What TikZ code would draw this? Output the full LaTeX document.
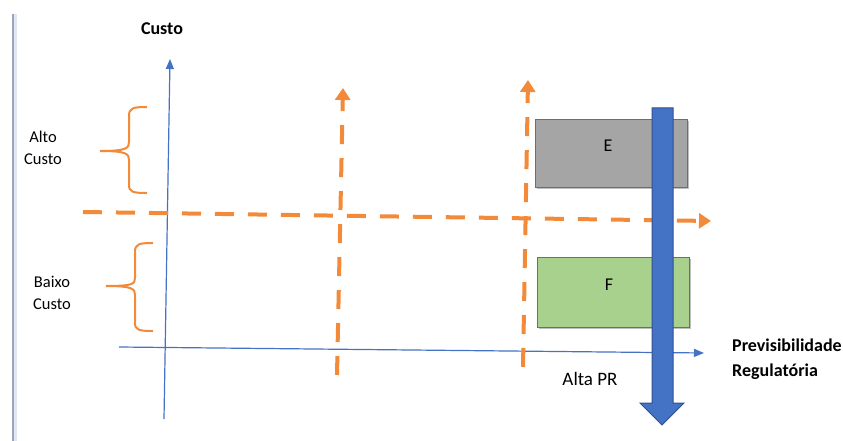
\documentclass[tikz,border=0pt]{standalone}
\usepackage{fontspec}
\setmainfont{Carlito}
\usetikzlibrary{arrows.meta,shadows}
\definecolor{ora}{HTML}{F28A3A}
\definecolor{axblue}{HTML}{4472C4}
\definecolor{dkblue}{HTML}{2F528F}
\definecolor{boxgray}{HTML}{A5A5A5}
\definecolor{boxgreen}{HTML}{A9D18E}
\definecolor{edge}{HTML}{9AA6BF}
\definecolor{edgesh}{HTML}{E2E6EE}
\tikzset{
  axisline/.style={draw=axblue, line width=1.2pt, -{Triangle[width=8pt,length=10pt]}},
  oradash/.style={draw=ora, line width=4pt, dash pattern=on 19pt off 14pt, -{Triangle[width=15pt,length=12pt]}},
  bracepath/.style={draw=ora, line width=2pt},
  qbox/.style={draw=axblue, line width=0.8pt, minimum width=152pt, inner sep=0pt,
     drop shadow={shadow xshift=2pt, shadow yshift=-2pt, opacity=0.25, fill=black}},
  boxtext/.style={font=\fontsize{18}{20}\selectfont, inner sep=0pt},
  lbl/.style={font=\fontsize{16.5}{22}\selectfont, align=center, inner sep=0pt},
  blbl/.style={font=\bfseries\fontsize{18}{25}\selectfont, inner sep=0pt}
}
\begin{document}
\begin{tikzpicture}[x=1pt,y=-1pt]
\useasboundingbox (0,0) rectangle (843,441);
% left border line
\draw[line width=4pt, edgesh] (15,14) -- (15,441);
\draw[line width=1.6pt, edge] (13,14) -- (13,441);
% titles
\node[blbl] (custo) at (162,29) {Custo};
\node[blbl, anchor=west, align=left] (prev) at (732,359) {Previsibilidade\\Regulatória};
\node[lbl] (alto) at (43,148) {Alto\\Custo};
\node[lbl] (baixo) at (52,293) {Baixo\\Custo};
\node[lbl, font=\fontsize{19}{22}\selectfont] (alta) at (590,379) {Alta PR};
% braces
\draw[bracepath] (147,107) .. controls (133,107) and (129,108) .. (129,116) -- (129,142)
   .. controls (129,148) and (127,151) .. (100,151);
\draw[bracepath] (100,151) .. controls (127,151) and (129,154) .. (129,160) -- (129,185)
   .. controls (129,192) and (133,193) .. (147,193);
\draw[bracepath] (153,243) .. controls (139,243) and (135,244) .. (135,252) -- (135,278)
   .. controls (135,284) and (133,286) .. (106,286);
\draw[bracepath] (106,286) .. controls (133,286) and (135,289) .. (135,295) -- (135,323)
   .. controls (135,330) and (139,331) .. (153,331);
% axes
\coordinate (yb) at (164,419);
\coordinate (yt) at (170,59);
\coordinate (xl) at (119,347);
\coordinate (xr) at (704,353);
\draw[axisline] (yb) -- (yt);
\draw[axisline] (xl) -- (xr);
% orange dashed arrows
\coordinate (hl) at (83,212);
\coordinate (hr) at (711,221);
\coordinate (v1b) at (337,375);
\coordinate (v1t) at (343,88);
\coordinate (v2b) at (523,367);
\coordinate (v2t) at (528,80);
\draw[oradash] (v1b) -- (v1t);
\draw[oradash] (v2b) -- (v2t);
\draw[oradash] (hl) -- (hr);
% boxes
\node[qbox, fill=boxgray, minimum height=68pt] (E) at (611,153) {};
\node[boxtext] (Et) at (608,146) {E};
\node[qbox, fill=boxgreen, minimum height=70pt] (F) at (613,292) {};
\node[boxtext] (Ft) at (609,285) {F};
% big blue arrow
\draw[fill=axblue, draw=dkblue, line width=1pt]
  (652,108) -- (673,108) -- (673,403) -- (684,403) -- (662,425) -- (640,403) -- (652,403) -- cycle;
\end{tikzpicture}
\end{document}
